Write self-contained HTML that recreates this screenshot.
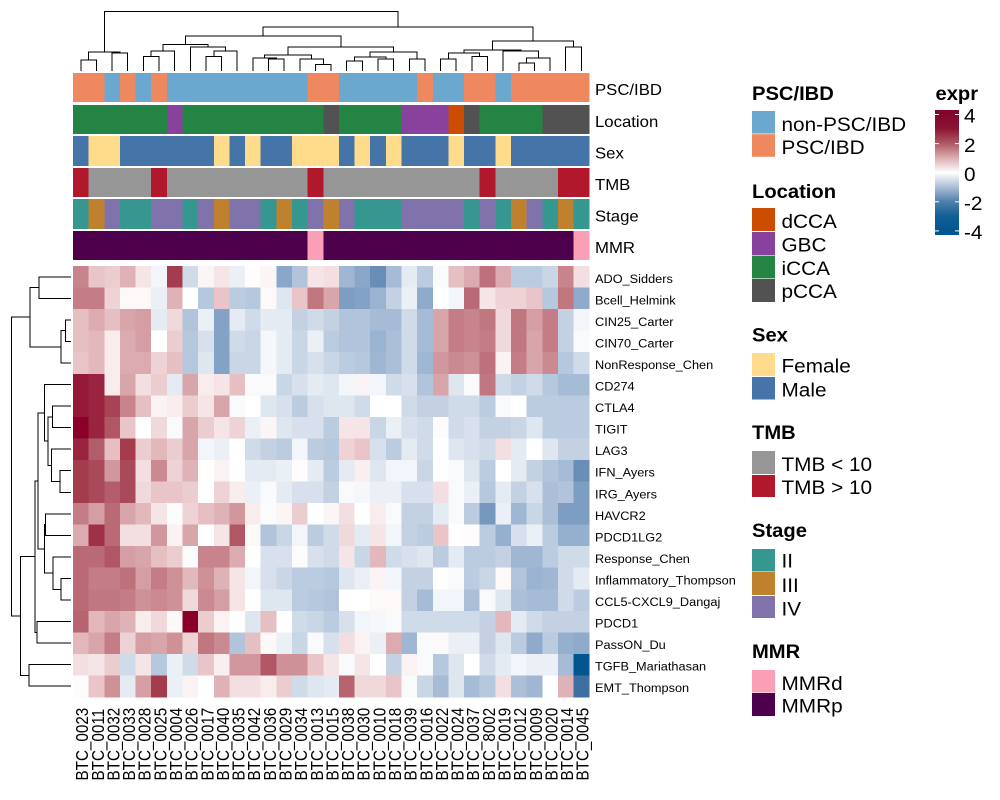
<!DOCTYPE html>
<html lang="en">
<head>
<meta charset="utf-8">
<title>Immune signature heatmap</title>
<style>
html,body{margin:0;padding:0;background:#fff;width:1000px;height:800px;overflow:hidden}
svg{display:block}
text{font-family:"Liberation Sans",Arial,sans-serif;fill:#000}
.lt{font-size:19.6px;font-weight:bold}
.li{font-size:19.6px}
</style>
</head>
<body>
<svg id="chart" xmlns="http://www.w3.org/2000/svg" width="1000" height="800" viewBox="0 0 1000 800">
  <g id="col-dendro" shape-rendering="crispEdges"></g>
  <g id="row-dendro" shape-rendering="crispEdges"></g>
  <g id="annots"></g>
  <g id="heat" shape-rendering="crispEdges"></g>
  <g id="row-labels"></g>
  <g id="col-labels"></g>

  <g>
    <text class="lt" transform="translate(752,100) scale(1.03,1)">PSC/IBD</text>
    <rect x="752" y="111" width="23" height="22.6" fill="#6aa8cf"/>
    <rect x="752" y="134.2" width="23" height="22.6" fill="#f0885f"/>
    <text class="li" transform="translate(781.5,131) scale(1.06,1)">non-PSC/IBD</text>
    <text class="li" transform="translate(781.5,154) scale(1.06,1)">PSC/IBD</text>
  </g>
  <g>
    <text class="lt" transform="translate(752,198) scale(1.03,1)">Location</text>
    <rect x="752" y="208" width="23" height="23" fill="#cc4c02"/>
    <rect x="752" y="232" width="23" height="23" fill="#88419d"/>
    <rect x="752" y="255.6" width="23" height="22.8" fill="#238443"/>
    <rect x="752" y="279" width="23" height="23" fill="#525252"/>
    <text class="li" transform="translate(781.5,228) scale(1.06,1)">dCCA</text>
    <text class="li" transform="translate(781.5,251.7) scale(1.06,1)">GBC</text>
    <text class="li" transform="translate(781.5,275) scale(1.06,1)">iCCA</text>
    <text class="li" transform="translate(781.5,298) scale(1.06,1)">pCCA</text>
  </g>
  <g>
    <text class="lt" transform="translate(752,341.7) scale(1.03,1)">Sex</text>
    <rect x="752" y="353" width="23" height="23" fill="#fedc8c"/>
    <rect x="752" y="377" width="23" height="22.5" fill="#4575a8"/>
    <text class="li" transform="translate(781.5,372.7) scale(1.06,1)">Female</text>
    <text class="li" transform="translate(781.5,396.5) scale(1.06,1)">Male</text>
  </g>
  <g>
    <text class="lt" transform="translate(752,439) scale(1.03,1)">TMB</text>
    <rect x="752" y="451" width="23" height="23" fill="#969696"/>
    <rect x="752" y="475" width="23" height="22" fill="#b2182b"/>
    <text class="li" transform="translate(781.5,471) scale(1.06,1)">TMB &lt; 10</text>
    <text class="li" transform="translate(781.5,494) scale(1.06,1)">TMB &gt; 10</text>
  </g>
  <g>
    <text class="lt" transform="translate(752,537) scale(1.03,1)">Stage</text>
    <rect x="752" y="549" width="23" height="22.5" fill="#35978f"/>
    <rect x="752" y="572" width="23" height="23" fill="#bf812d"/>
    <rect x="752" y="596" width="23" height="22" fill="#8073ac"/>
    <text class="li" transform="translate(781.5,567.5) scale(1.06,1)">II</text>
    <text class="li" transform="translate(781.5,592) scale(1.06,1)">III</text>
    <text class="li" transform="translate(781.5,615.5) scale(1.06,1)">IV</text>
  </g>
  <g>
    <text class="lt" transform="translate(752,658) scale(1.03,1)">MMR</text>
    <rect x="752" y="670" width="23" height="22.5" fill="#fa9fb5"/>
    <rect x="752" y="693" width="23" height="23" fill="#4d004b"/>
    <text class="li" transform="translate(781.5,690) scale(1.06,1)">MMRd</text>
    <text class="li" transform="translate(781.5,712.7) scale(1.06,1)">MMRp</text>
  </g>
  <g id="colorbar">
    <text class="lt" transform="translate(935.5,100) scale(1.03,1)">expr</text>
  </g>
</svg>
<script>
const rowNames = ["ADO_Sidders","Bcell_Helmink","CIN25_Carter","CIN70_Carter","NonResponse_Chen","CD274","CTLA4","TIGIT","LAG3","IFN_Ayers","IRG_Ayers","HAVCR2","PDCD1LG2","Response_Chen","Inflammatory_Thompson","CCL5-CXCL9_Dangaj","PDCD1","PassON_Du","TGFB_Mariathasan","EMT_Thompson"];
const colNames = ["BTC_0023","BTC_0011","BTC_0032","BTC_0033","BTC_0028","BTC_0025","BTC_0004","BTC_0026","BTC_0017","BTC_0040","BTC_0035","BTC_0042","BTC_0036","BTC_0029","BTC_0034","BTC_0013","BTC_0015","BTC_0038","BTC_0030","BTC_0010","BTC_0018","BTC_0039","BTC_0016","BTC_0022","BTC_0024","BTC_0037","BTC_8002","BTC_0019","BTC_0012","BTC_0009","BTC_0020","BTC_0014","BTC_0045"];
const exprValues = [
[1.9,.9,.8,1.2,.4,-.2,3.0,-.7,.15,.4,-.3,.05,.15,-1.9,-1.2,.4,.5,-1.5,-1.9,-2.4,-1.4,-.4,-1.0,-.1,1.0,1.3,2.2,1.3,-1.0,-1.0,-.8,1.9,.5],
[2.0,2.0,.7,.1,.1,-.3,1.2,0,-1.1,.9,-1.0,-1.1,.1,-.5,.9,2.1,1.4,-2.1,-2.0,-1.6,-.9,-.3,-1.8,0,-.2,2.3,.4,.7,.7,.9,-1.1,2.1,-1.8],
[1.0,1.3,1.0,1.4,1.5,-.4,.6,-1.2,-.3,-2.0,-.4,-.7,-.4,-.4,-.9,-.7,-.9,-1.2,-1.2,-1.4,-1.4,-.7,-1.4,1.4,2.0,1.9,2.1,.6,2.1,1.5,2.0,-.9,-.2],
[1.0,1.1,.3,1.3,1.5,0,.8,-1.1,-.6,-2.0,-.7,-.8,-.15,-.4,-.8,-.3,-1.0,-1.2,-1.2,-1.6,-1.3,-.7,-1.4,1.4,2.0,1.9,2.0,.6,2.1,1.4,2.0,-.9,-.1],
[.9,1.1,.3,1.3,1.3,.7,1.0,-1.1,-.5,-2.0,-.8,-.8,-.15,-.4,-.8,-.6,-.8,-1.0,-1.1,-1.5,-1.3,-.7,-1.5,1.6,1.8,1.7,2.2,.2,2.0,1.4,1.8,-1.1,-.7],
[3.6,3.4,.3,1.4,.5,.8,-.4,1.4,.3,.4,1.0,-.1,-.1,-.8,-.6,-.4,-.5,-.2,.2,-.2,-.7,-.6,-1.2,1.4,-.5,-.1,2.1,-.7,-.9,-.7,-1.1,-1.4,-1.4],
[3.6,3.4,2.9,1.9,1.0,.2,.3,.8,.4,1.4,-.1,0,-.5,-.6,-1.0,-.6,-.5,-.5,-.7,0,0,-.7,-.9,-.9,-.7,-.7,-1.0,-.1,0,-1.0,-1.0,-1.0,-1.0],
[4.0,3.4,2.6,.9,0,.6,-.1,1.4,.8,.4,.7,-.3,.15,-.5,-.6,-.6,-1.0,.4,.4,-.8,-.3,-.6,-.7,-.05,-.7,-.6,-.9,-.9,-.8,-.5,-1.0,-1.0,-1.0],
[3.4,2.5,1.0,3.0,.8,1.1,.8,1.4,-.2,-.3,0,-.7,-.9,-1.0,-.2,-1.0,-1.1,.7,.9,-.6,-1.0,-.4,-.7,0,-.5,-.6,-.7,.5,-.4,0,-.5,-.9,-.9],
[3.0,2.8,1.6,2.8,.5,1.8,.7,1.2,0,.2,0,-.4,-.4,-.3,.05,-.4,-1.0,-.4,.25,-.5,-.2,-.2,-.8,0,-.1,-.5,-1.0,0,-.4,-.9,-1.2,-1.4,-2.4],
[3.0,2.8,2.5,2.8,.6,.9,.9,.8,0,.7,.3,-.3,-.1,-.4,-.6,-.6,-.9,-.1,-.15,-.3,-.3,-.6,-.6,.5,-.1,-.3,-1.1,-.4,-.9,-.6,-1.3,-1.2,-2.1],
[2.0,1.5,2.3,1.4,1.1,.4,-.05,.7,1.0,1.2,1.6,.3,-.05,.15,.8,0,.15,.5,0,.3,-.1,-.9,-.9,-.4,-.1,-1.0,-2.2,-.3,-1.5,-.8,-1.3,-2.1,-2.1],
[1.3,3.2,2.3,.5,.5,1.6,.2,1.4,0,.4,2.6,.1,-1.2,-.8,-.2,-1.0,-.7,.6,-.4,.4,-.2,-.9,-1.0,.9,0,.05,-1.0,-1.7,-.6,-.3,-1.0,-1.7,-1.7],
[2.3,2.3,2.6,1.5,1.4,1.0,.8,-.05,1.9,1.9,1.3,0,-.6,-.6,-.05,-.6,-.7,.4,-.8,1.1,-.7,-.6,-.5,-1.0,-.4,-1.0,-1.0,-.9,-1.5,-1.5,-1.0,-.7,-.7],
[2.3,2.0,2.0,2.2,1.5,2.0,1.7,1.1,1.7,1.2,.4,-.2,-.6,-.8,-1.0,-1.0,-1.1,-.5,-.3,.2,-.2,-.9,-.9,0,-.1,-1.0,-.8,.1,-1.2,-1.6,-1.5,-.7,-.4],
[2.3,2.1,2.1,2.0,1.7,1.8,1.7,.6,1.8,1.5,.4,0,-.5,-.5,-1.0,-1.1,-1.2,0,0,.1,.1,-.9,-1.4,-.2,-.2,-1.3,-.1,-.5,-1.3,-1.4,-1.4,-.7,-1.0],
[2.4,1.1,1.4,1.2,.3,.6,.1,4.0,.8,.2,0,-.5,1.0,0,-.7,-.8,-1.0,-.6,-.2,-.15,-.1,-.7,-.7,-.7,-.7,-.7,-.9,1.1,-.4,-.7,-.9,-.9,-.9],
[1.1,1.4,2.0,.7,1.5,1.4,1.7,.7,2.1,1.8,-1.2,1.0,.1,-.3,-.8,-.1,-.6,.5,.2,-.3,1.3,-1.5,-.1,.1,-.3,-.3,-.9,-.5,-1.0,-1.8,-1.0,-1.7,-1.8],
[.5,.4,.8,-.7,.4,-1.1,-.3,-.7,.9,.25,1.6,1.6,2.6,1.7,1.7,.9,.4,-.1,.4,0,-.9,.2,-.1,-1.1,-.5,0,-.7,-.4,-.2,-.3,-.3,-1.4,-4.0],
[-.05,.9,1.7,-.4,1.5,3.0,-.3,.2,0,1.2,.5,.5,.3,.8,-.7,-.5,-.4,2.4,.6,.6,.9,-.1,-.8,-1.4,-.5,-1.4,-1.1,.5,-1.3,-1.5,0,1.2,-3.0]
];
const pscIbd = ["P","P","N","P","N","P","N","N","N","N","N","N","N","N","N","P","P","N","N","N","N","N","P","N","N","P","P","N","P","P","P","P","P"];
const locationGroup = ["i","i","i","i","i","i","G","i","i","i","i","i","i","i","i","i","p","i","i","i","i","G","G","G","d","p","i","i","i","i","p","p","p"];
const sexGroup = ["M","F","F","M","M","M","M","M","M","F","M","F","M","M","F","F","F","M","F","M","F","M","M","M","F","M","M","F","M","M","M","M","M"];
const tmbGroup = ["H","L","L","L","L","H","L","L","L","L","L","L","L","L","L","H","L","L","L","L","L","L","L","L","L","L","H","L","L","L","L","H","H"];
const stageGroup = ["II","III","IV","II","II","IV","IV","II","IV","III","IV","IV","II","III","II","IV","III","IV","II","II","II","IV","IV","IV","IV","II","IV","II","III","IV","II","III","II"];
const mmrGroup = ["p","p","p","p","p","p","p","p","p","p","p","p","p","p","p","d","p","p","p","p","p","p","p","p","p","p","p","p","p","p","p","p","d"];
const colTree = [14.9,
  [4.7,[2.75,0,1],[4.45,2,3]],
  [11,
    [8.75,
      [6.65,[4.95,[3.65,4,5],6],[5.95,7,[4.95,[3.65,8,9],10]]],
      [5.95,
        [3.95,[3.2,11,[2.95,12,13]],[2.95,14,[1.65,15,16]]],
        [4.7,[3.45,[2.45,17,18],[2.95,19,20]],[2.95,21,22]]
      ]
    ],
    [7.5,
      [5.2,[4.45,[2.95,23,24],[3.65,25,26]],[4.95,27,[3.2,[1.95,28,29],30]]],
      [5.95,31,32]
    ]
  ]
];
const rowTree = [14.9,
  [10.2,[7.95,0,1],[2.45,[1.35,2,3],4]],
  [12.65,
    [8.95,
      [8.2,
        [6.65,5,[5.8,[4.6,6,7],[4.85,8,[2.7,9,10]]]],
        [6.65,[6.35,11,12],[4.45,13,[2.45,14,15]]]
      ],
      [8.45,16,17]
    ],
    [10.45,18,19]
  ]
];
const legendTicks = [4,2,0,-2,-4];
const colorStopValues = [-4,-3,-2,-1,0,1,2,3,4];
const colorStopFills = ["#01568f","#3d6fa0","#84a2c6","#bccce0","#ffffff","#e6bfc3","#c47d86","#a43c4e","#8a0029"];
const barStopFills = ["#01568f","#0f5f95","#4f7fab","#abbdd6","#ffffff","#dcaeb3","#b05a65","#8c1635","#82062b"];
const annotationTracks = [
  {label:"PSC/IBD",values:pscIbd},
  {label:"Location",values:locationGroup},
  {label:"Sex",values:sexGroup},
  {label:"TMB",values:tmbGroup},
  {label:"Stage",values:stageGroup},
  {label:"MMR",values:mmrGroup}
];
const annotationPalettes = [
  {N:"#6aa8cf",P:"#f0885f"},
  {d:"#cc4c02",G:"#88419d",i:"#238443",p:"#525252"},
  {F:"#fedc8c",M:"#4575a8"},
  {L:"#969696",H:"#b2182b"},
  {II:"#35978f",III:"#bf812d",IV:"#8073ac"},
  {d:"#fa9fb5",p:"#4d004b"}
];

const NS = "http://www.w3.org/2000/svg";
function mk(tag, parent, attrs){
  const el = document.createElementNS(NS, tag);
  for (const k in attrs) el.setAttribute(k, attrs[k]);
  parent.appendChild(el);
  return el;
}
const HM = {x0:73, x1:589.2, y0:266, y1:697};
const colW = (HM.x1-HM.x0)/colNames.length;
const rowH = (HM.y1-HM.y0)/rowNames.length;
function xCol(i){ return HM.x0 + colW*i; }
function yRow(i){ return HM.y0 + rowH*i; }
function colCenter(i){ return xCol(i)+colW/2; }
function rowCenter(i){ return yRow(i)+rowH/2; }
function dendroPos(h){ return 71 - h*4; }
function hexToRgb(h){ return [1,3,5].map(i=>parseInt(h.slice(i,i+2),16)); }
function colorOf(v){
  const n = colorStopValues.length;
  if (v<=colorStopValues[0]) return colorStopFills[0];
  if (v>=colorStopValues[n-1]) return colorStopFills[n-1];
  for (let i=0;i<n-1;i++){
    if (v<=colorStopValues[i+1]){
      const t=(v-colorStopValues[i])/(colorStopValues[i+1]-colorStopValues[i]);
      const a=hexToRgb(colorStopFills[i]), b=hexToRgb(colorStopFills[i+1]);
      return "rgb("+a.map((c,j)=>Math.round(c+(b[j]-c)*t)).join(",")+")";
    }
  }
}

/* heatmap */
const heat = document.getElementById("heat");
exprValues.forEach((row,r)=>{
  row.forEach((v,c)=>{
    const cell = mk("rect", heat, {x:xCol(c), y:yRow(r), width:colW+.4, height:rowH+.4, fill:colorOf(v)});
    
    
  });
});

/* row labels */
const rowLabels = document.getElementById("row-labels");
rowNames.forEach((name,r)=>{
  const t = mk("text", rowLabels, {transform:"translate(595,"+(rowCenter(r)+6)+") scale(1.09,1)", "font-size":"11.7"});
  t.textContent = name;
  
  
});

/* column labels */
const colLabels = document.getElementById("col-labels");
colNames.forEach((name,c)=>{
  const t = mk("text", colLabels, {transform:"translate("+(colCenter(c)+7.3)+",780.5) rotate(-90) scale(.87,1)", "font-size":"17.5"});
  t.textContent = name;
  
  
});

/* annotation tracks */
const annots = document.getElementById("annots");
const trackTops = [73,105,136,168,199,231];
const trackBottoms = [102,134,166,197,229,260];
annotationTracks.forEach((track,k)=>{
  const g = mk("g", annots, {"shape-rendering":"crispEdges"});
  
  
  track.values.forEach((v,c)=>{
    const cell = mk("rect", g, {x:xCol(c), y:trackTops[k], width:colW+.4, height:trackBottoms[k]-trackTops[k], fill:annotationPalettes[k][v]});
    
    
  });
  const t = mk("text", annots, {transform:"translate(595,"+((trackTops[k]+trackBottoms[k])/2+7.4)+") scale(1.06,1)", "font-size":"15.8"});
  t.textContent = track.label;
  
  
});

/* dendrograms */
function drawTree(node, parent, leafPos, horizontalTree){
  if (typeof node === "number") return {p:leafPos(node), d:dendroPos(0)};
  const a = drawTree(node[1], parent, leafPos, horizontalTree);
  const b = drawTree(node[2], parent, leafPos, horizontalTree);
  const d = dendroPos(node[0]);
  const path = horizontalTree
    ? "M"+a.d+" "+a.p+"H"+d+"V"+b.p+"H"+b.d
    : "M"+a.p+" "+a.d+"V"+d+"H"+b.p+"V"+b.d;
  const el = mk("path", parent, {d:path, fill:"none", stroke:"#000", "stroke-width":"1"});
  
  
  return {p:(a.p+b.p)/2, d:d};
}
drawTree(colTree, document.getElementById("col-dendro"), colCenter, false);
drawTree(rowTree, document.getElementById("row-dendro"), rowCenter, true);

/* colour bar */
const cb = document.getElementById("colorbar");
function yLegend(v){ return 172.7 - v*14.55; }
const defs = mk("defs", cb, {});
const grad = mk("linearGradient", defs, {id:"exprGrad", x1:"0", y1:"0", x2:"0", y2:"1"});
const barTop = 110, barBottom = 235;
[...colorStopValues].reverse().forEach(v=>{
  const i = colorStopValues.indexOf(v);
  mk("stop", grad, {offset:((yLegend(v)-barTop)/(barBottom-barTop)).toFixed(4), "stop-color":barStopFills[i]});
});
const bar = mk("rect", cb, {x:935, y:barTop, width:24, height:barBottom-barTop, fill:"url(#exprGrad)"});


legendTicks.forEach(v=>{
  const y = yLegend(v);
  [935,955].forEach(x=>{
    const tick = mk("rect", cb, {x:x, y:y-.5, width:4, height:1, fill:"#fff"});
    
    
  });
  const t = mk("text", cb, {transform:"translate(964,"+(y+8.2)+") scale(1.06,1)", "font-size":"19.6"});
  t.textContent = String(v);
  
  
});
</script>
</body>
</html>
